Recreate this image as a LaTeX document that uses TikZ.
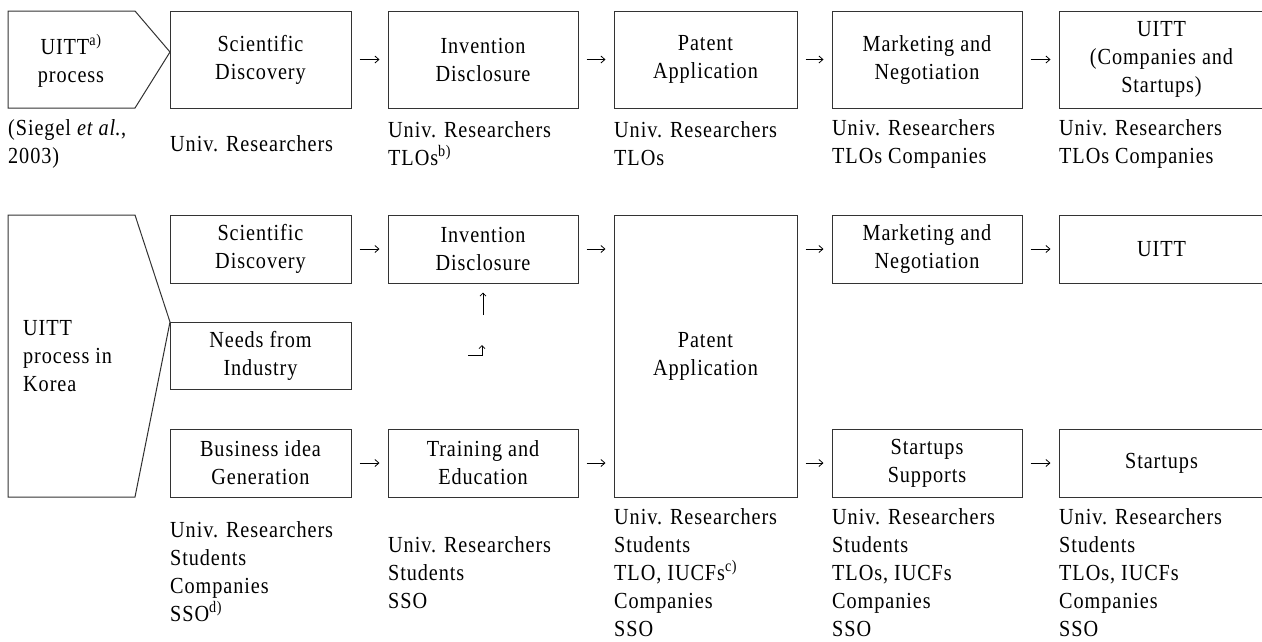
\documentclass[tikz,border=0pt]{standalone}
\usepackage{fontspec}
\setmainfont{Liberation Serif}[FakeStretch=0.88, LetterSpace=4]
\usetikzlibrary{arrows.meta}
\tikzset{
  box/.style={draw=black!80, line width=1pt, align=center, inner sep=0pt},
  who/.style={anchor=west, align=left, inner sep=0pt},
  arr/.style={-{Straight Barb[length=4pt,width=7pt]}, line width=0.8pt, shorten <=8pt, shorten >=8pt},
  arrsmall/.style={-{Straight Barb[length=3pt,width=6pt]}, line width=0.8pt},
}
\begin{document}
\begin{tikzpicture}[x=1pt, y=-1pt, font=\fontsize{23}{28}\selectfont]
\useasboundingbox (0,0) rectangle (1262,641);
\pgfmathsetmacro{\ra}{59.5}
\pgfmathsetmacro{\rb}{249}
\pgfmathsetmacro{\rc}{463}
% Siegel et al.
\draw[line width=1pt, draw=black!80] (8,11) -- (135,11) -- (170,52) -- (135,108) -- (8,108) -- cycle;
\node[align=center, inner sep=0pt] (uitt) at (71,61) {UITT\textsuperscript{a)}\\process};
\node[box, minimum width=181, minimum height=97] (sd1) at (260.5,\ra) {Scientific\\Discovery};
\node[box, minimum width=190, minimum height=97] (id1) at (483,\ra) {Invention\\Disclosure};
\node[box, minimum width=183, minimum height=97] (pa1) at (705.5,\ra) {Patent\\Application};
\node[box, minimum width=190, minimum height=97] (mn1) at (927,\ra) {Marketing and\\Negotiation};
\node[box, minimum width=205, minimum height=97] (ut1) at (1161.5,\ra) {UITT\\(Companies and\\Startups)};
\foreach \a/\b in {sd1/id1, id1/pa1, pa1/mn1, mn1/ut1}
  \draw[arr] (\a) -- (\b);
\node[who] (w0) at (8,144) {(Siegel \textit{et al}.,\\2003)};
\node[who] (w1) at (170,144) {Univ. Researchers};
\node[who] (w2) at (388,144) {Univ. Researchers\\TLOs\textsuperscript{b)}};
\node[who] (w3) at (614,144) {Univ. Researchers\\TLOs};
\node[who] (w4) at (832,144) {Univ. Researchers\\TLOs Companies};
\node[who] (w5) at (1059,144) {Univ. Researchers\\TLOs Companies};
% Korea
\draw[line width=1pt, draw=black!80] (8,215) -- (135,215) -- (170,322) -- (135,497) -- (8,497) -- cycle;
\node[who] (korea) at (23,356) {UITT\\process in\\Korea};
\node[box, minimum width=181, minimum height=68] (sd2) at (260.5,\rb) {Scientific\\Discovery};
\node[box, minimum width=181, minimum height=67] (ni2) at (260.5,355.5) {Needs from\\Industry};
\node[box, minimum width=181, minimum height=68] (bi3) at (260.5,\rc) {Business idea\\Generation};
\node[box, minimum width=190, minimum height=68] (id2) at (483,\rb) {Invention\\Disclosure};
\node[box, minimum width=190, minimum height=68] (te3) at (483,\rc) {Training and\\Education};
\node[box, minimum width=183, minimum height=282] (pa2) at (705.5,356) {Patent\\Application};
\node[box, minimum width=190, minimum height=68] (mn2) at (927,\rb) {Marketing and\\Negotiation};
\node[box, minimum width=190, minimum height=68] (ss3) at (927,\rc) {Startups\\Supports};
\node[box, minimum width=205, minimum height=68] (ut2) at (1161.5,\rb) {UITT};
\node[box, minimum width=205, minimum height=68] (st3) at (1161.5,\rc) {Startups};
\draw[arr] (sd2) -- (id2);
\draw[arr] (id2.east) -- (id2.east -| pa2.west);
\draw[arr] (mn2.west -| pa2.east) -- (mn2.west);
\draw[arr] (mn2) -- (ut2);
\draw[arr] (bi3) -- (te3);
\draw[arr] (te3.east) -- (te3.east -| pa2.west);
\draw[arr] (ss3.west -| pa2.east) -- (ss3.west);
\draw[arr] (ss3) -- (st3);
\coordinate (up0) at (483,315);
\draw[arrsmall] (up0) -- ([yshift=-9pt]id2.south);
\coordinate (bend0) at (468,355);
\coordinate (bend1) at (482,345);
\draw[arrsmall] (bend0) -| (bend1);
\node[who] (v1) at (170,572) {Univ. Researchers\\Students\\Companies\\SSO\textsuperscript{d)}};
\node[who] (v2) at (388,573) {Univ. Researchers\\Students\\SSO};
\node[who] (v3) at (614,573) {Univ. Researchers\\Students\\TLO, IUCFs\textsuperscript{c)}\\Companies\\SSO};
\node[who] (v4) at (832,573) {Univ. Researchers\\Students\\TLOs, IUCFs\\Companies\\SSO};
\node[who] (v5) at (1059,573) {Univ. Researchers\\Students\\TLOs, IUCFs\\Companies\\SSO};
\end{tikzpicture}
\end{document}
